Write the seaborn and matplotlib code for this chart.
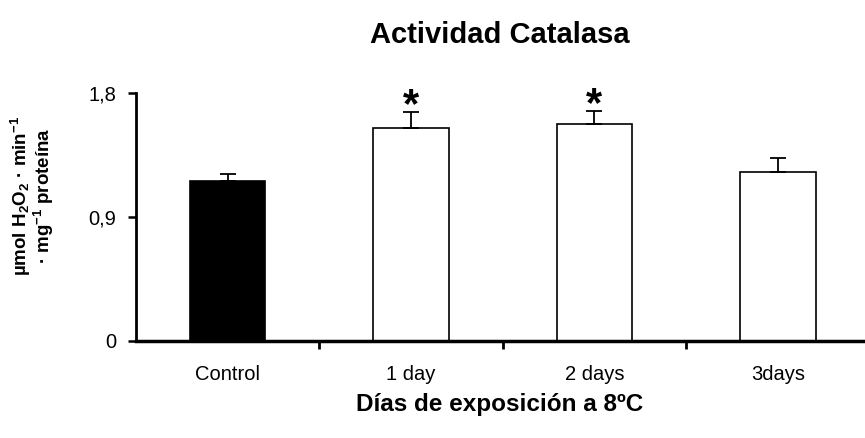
import matplotlib
matplotlib.use('Agg')
import matplotlib.pyplot as plt
import seaborn as sns

# Catalase activity data
groups = ['Control', '1 day', '2 days', '3days']
means = [1.16, 1.545, 1.575, 1.225]
sem = [0.05, 0.12, 0.095, 0.10]
significant = [False, True, True, False]
bar_colors = ['black', 'white', 'white', 'white']

sns.set_style('white')
plt.rcParams['font.family'] = ['Liberation Sans', 'DejaVu Sans']
plt.rcParams['mathtext.fontset'] = 'custom'
plt.rcParams['mathtext.rm'] = 'Liberation Sans'
plt.rcParams['mathtext.bf'] = 'Liberation Sans:bold'
plt.rcParams['mathtext.it'] = 'Liberation Sans:italic'
plt.rcParams['text.color'] = 'black'
plt.rcParams['axes.labelcolor'] = 'black'
plt.rcParams['xtick.color'] = 'black'
plt.rcParams['ytick.color'] = 'black'

fig = plt.figure(figsize=(8.65, 4.38), dpi=100)
ax = fig.add_axes([0.157, 0.2215, 0.842, 0.566])

sns.barplot(x=groups, y=means, hue=groups, palette=bar_colors,
            edgecolor='black', linewidth=1.2, width=0.41, legend=False, ax=ax)

# upper error bars only
pos = list(range(len(groups)))
ax.errorbar(pos, means, yerr=[[0] * len(sem), sem], fmt='none',
            ecolor='black', elinewidth=1.3, capsize=6, capthick=1.3, zorder=3)

# significance stars
for i, (m, s, sig) in enumerate(zip(means, sem, significant)):
    if sig:
        ax.text(i, m + s - 0.105, '*', ha='center', va='bottom',
                fontsize=30, fontweight='bold', clip_on=False)

ax.set_ylim(0, 1.8)
ax.set_xlim(-0.5, 3.47)
ax.set_yticks([0, 0.9, 1.8])
ax.set_yticklabels(['0', '0,9', '1,8'])

# category labels without ticks, ticks between categories
ax.set_xticks(pos)
ax.set_xticklabels(groups)
ax.tick_params(axis='x', which='major', length=0, pad=17, labelsize=14.5)
ax.set_xticks([0.5, 1.5, 2.5], minor=True)
ax.tick_params(axis='x', which='minor', bottom=True, direction='out', length=6, width=2)
ax.tick_params(axis='y', direction='out', length=6, width=1.8, labelsize=14.5,
               left=True, pad=8)

sns.despine(ax=ax)
ax.spines['left'].set_linewidth(2)
ax.spines['bottom'].set_linewidth(2.5)
ax.spines['left'].set_color('black')
ax.spines['bottom'].set_color('black')

ax.set_title('Actividad Catalasa', fontsize=21, fontweight='bold', pad=36)
ax.set_xlabel('Días de exposición a 8ºC', fontsize=17.5, fontweight='bold', labelpad=7)
ax.set_ylabel('µmol H$_\\mathbf{2}$O$_\\mathbf{2}$ · min$^\\mathbf{-1}$\n· mg$^\\mathbf{-1}$ proteína',
              fontsize=13.5, fontweight='bold', linespacing=0.9)
ax.yaxis.set_label_coords(-0.11, 0.585)

fig.savefig('out.png', dpi=100)
